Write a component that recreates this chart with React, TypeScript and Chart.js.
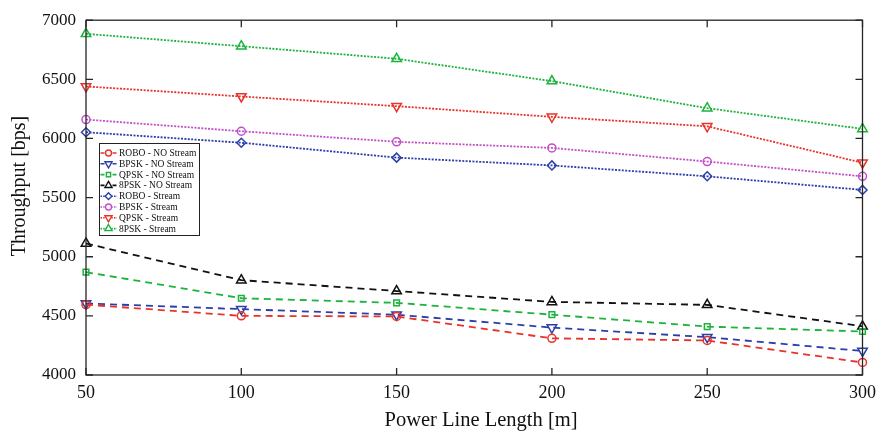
import { useEffect, useRef } from 'react';
import { Chart, registerables } from 'chart.js';
Chart.register(...registerables);

const lengths = [50, 100, 150, 200, 250, 300];
const roboNoStream = [4595, 4500, 4495, 4310, 4292, 4106];
const bpskNoStream = [4605, 4557, 4510, 4401, 4320, 4203];
const qpskNoStream = [4870, 4649, 4610, 4510, 4409, 4368];
const psk8NoStream = [5112, 4802, 4710, 4618, 4593, 4412];
const roboStream = [6053, 5964, 5838, 5772, 5680, 5565];
const bpskStream = [6160, 6061, 5972, 5920, 5805, 5680];
const qpskStream = [6440, 6355, 6273, 6183, 6103, 5795];
const psk8Stream = [6885, 6780, 6674, 6485, 6256, 6081];
const seriesLabels = [
  'ROBO - NO Stream', 'BPSK - NO Stream', 'QPSK - NO Stream', '8PSK - NO Stream',
  'ROBO - Stream', 'BPSK - Stream', 'QPSK - Stream', '8PSK - Stream',
];
const yTickValues = [4000, 4500, 5000, 5500, 6000, 6500, 7000];
const xTitle = 'Power Line Length [m]';
const yTitle = 'Throughput [bps]';

const RED = '#e8332b';
const BLUE = '#2c3fa8';
const GREEN = '#1db33c';
const BLACK = '#111111';
const MAGENTA = '#c34fc8';
const FONT = '"Liberation Serif", "Times New Roman", serif';

const DASH = [7, 5];
const DOT = [2, 1.4];

const styles = [
  { values: roboNoStream, color: RED, dash: DASH, point: 'circle', r: 4, rot: 0 },
  { values: bpskNoStream, color: BLUE, dash: DASH, point: 'triangle', r: 5.5, rot: 180 },
  { values: qpskNoStream, color: GREEN, dash: DASH, point: 'rect', r: 4, rot: 0 },
  { values: psk8NoStream, color: BLACK, dash: DASH, point: 'triangle', r: 5.5, rot: 0 },
  { values: roboStream, color: BLUE, dash: DOT, point: 'rectRot', r: 4.5, rot: 0 },
  { values: bpskStream, color: MAGENTA, dash: DOT, point: 'circle', r: 4, rot: 0 },
  { values: qpskStream, color: RED, dash: DOT, point: 'triangle', r: 5.5, rot: 180 },
  { values: psk8Stream, color: GREEN, dash: DOT, point: 'triangle', r: 5.5, rot: 0 },
];

function drawMarker(ctx: CanvasRenderingContext2D, type: string, r: number, rot: number, x: number, y: number, color: string) {
  ctx.save();
  ctx.strokeStyle = color;
  ctx.lineWidth = 1.4;
  ctx.fillStyle = '#fff';
  ctx.translate(x, y);
  ctx.rotate((rot * Math.PI) / 180);
  ctx.beginPath();
  if (type === 'circle') {
    ctx.arc(0, 0, r, 0, Math.PI * 2);
  } else if (type === 'triangle') {
    for (let k = 0; k < 3; k++) {
      const ang = -Math.PI / 2 + (k * 2 * Math.PI) / 3;
      const px = Math.cos(ang) * r, py = Math.sin(ang) * r;
      if (k === 0) ctx.moveTo(px, py); else ctx.lineTo(px, py);
    }
    ctx.closePath();
  } else if (type === 'rect') {
    const s = r * Math.SQRT1_2;
    ctx.rect(-s, -s, 2 * s, 2 * s);
  } else {
    ctx.moveTo(0, -r); ctx.lineTo(r, 0); ctx.lineTo(0, r); ctx.lineTo(-r, 0); ctx.closePath();
  }
  ctx.fill();
  ctx.stroke();
  ctx.restore();
}

const framePlugin = {
  id: 'frame',
  afterDatasetsDraw(chart: any) {
    const { ctx, chartArea: a, scales } = chart;
    const x = scales.x, y = scales.y;
    ctx.save();
    ctx.strokeStyle = '#262626';
    ctx.lineWidth = 1.3;
    ctx.setLineDash([]);
    ctx.strokeRect(a.left, a.top, a.right - a.left, a.bottom - a.top);
    const tl = 7;
    ctx.beginPath();
    for (const v of lengths) {
      const px = x.getPixelForValue(v);
      ctx.moveTo(px, a.bottom); ctx.lineTo(px, a.bottom - tl);
      ctx.moveTo(px, a.top); ctx.lineTo(px, a.top + tl);
    }
    for (const v of yTickValues) {
      const py = y.getPixelForValue(v);
      ctx.moveTo(a.left, py); ctx.lineTo(a.left + tl, py);
      ctx.moveTo(a.right, py); ctx.lineTo(a.right - tl, py);
    }
    ctx.stroke();
    ctx.restore();
  },
  afterDraw(chart: any) {
    const { ctx } = chart;
    ctx.save();
    ctx.fillStyle = '#111';
    ctx.textAlign = 'center';
    ctx.textBaseline = 'alphabetic';
    ctx.font = `20.5px ${FONT}`;
    ctx.fillText(xTitle, 481, 426);
    ctx.save();
    ctx.translate(25, 186);
    ctx.rotate(-Math.PI / 2);
    ctx.font = `20px ${FONT}`;
    ctx.fillText(yTitle, 0, 0);
    ctx.restore();

    // legend
    const bx = 99, by = 143, bw = 100, bh = 92;
    ctx.fillStyle = '#fff';
    ctx.fillRect(bx, by, bw, bh);
    ctx.strokeStyle = '#222';
    ctx.lineWidth = 1;
    ctx.strokeRect(bx + 0.5, by + 0.5, bw, bh);
    ctx.font = `9.5px ${FONT}`;
    ctx.textAlign = 'left';
    ctx.textBaseline = 'middle';
    chart.data.datasets.forEach((ds: any, i: number) => {
      const cy = by + 10 + i * 10.8;
      ctx.strokeStyle = ds.borderColor;
      ctx.lineWidth = 1.6;
      ctx.setLineDash(i < 4 ? [4, 2] : [1.5, 1.2]);
      ctx.beginPath();
      ctx.moveTo(bx + 1.5, cy);
      ctx.lineTo(bx + 18, cy);
      ctx.stroke();
      ctx.setLineDash([]);
      const st = styles[i];
      drawMarker(ctx, st.point, st.r * 0.75, st.rot, bx + 9.5, cy, ds.borderColor);
      ctx.fillStyle = '#111';
      ctx.fillText(ds.label, bx + 20, cy + 0.5);
    });
    ctx.restore();
  },
};

export default function App() {
  const ref = useRef<HTMLCanvasElement>(null);
  useEffect(() => {
    document.body.style.margin = '0';
    const chart = new Chart(ref.current!, {
      type: 'line',
      data: {
        datasets: styles.map((s, i) => ({
          label: seriesLabels[i],
          data: lengths.map((x, j) => ({ x, y: s.values[j] })),
          borderColor: s.color,
          backgroundColor: s.color,
          borderWidth: 1.8,
          borderDash: s.dash,
          pointStyle: s.point as any,
          pointRadius: s.r,
          pointRotation: s.rot,
          pointBorderWidth: 1.5,
          pointBorderColor: s.color,
          pointBackgroundColor: 'rgba(255,255,255,0)',
          tension: 0,
          fill: false,
          clip: false as any,
        })),
      },
      options: {
        animation: false,
        responsive: false,
        events: [],
        layout: { padding: { top: 16, right: 20, left: 0, bottom: 0 } },
        plugins: { legend: { display: false }, tooltip: { enabled: false } },
        scales: {
          x: {
            type: 'linear',
            min: 50,
            max: 300,
            afterFit: (s: any) => { s.height = 57; },
            afterBuildTicks: (s: any) => { s.ticks = lengths.map((v) => ({ value: v })); },
            grid: { display: false, drawTicks: false },
            border: { display: false },
            ticks: { color: '#111', font: { family: FONT, size: 18 }, padding: 7, maxRotation: 0 },
          },
          y: {
            type: 'linear',
            min: 4000,
            max: 7000,
            afterFit: (s: any) => { s.width = 86; },
            afterBuildTicks: (s: any) => { s.ticks = yTickValues.map((v) => ({ value: v })); },
            ticks: {
              color: '#111',
              font: { family: FONT, size: 17 },
              padding: 10,
              callback: (v: any) => String(v),
            },
            grid: { display: false, drawTicks: false },
            border: { display: false },
          },
        },
      },
      plugins: [framePlugin],
    });
    return () => chart.destroy();
  }, []);
  return <canvas ref={ref} width={883} height={432} style={{ display: 'block' }} />;
}
